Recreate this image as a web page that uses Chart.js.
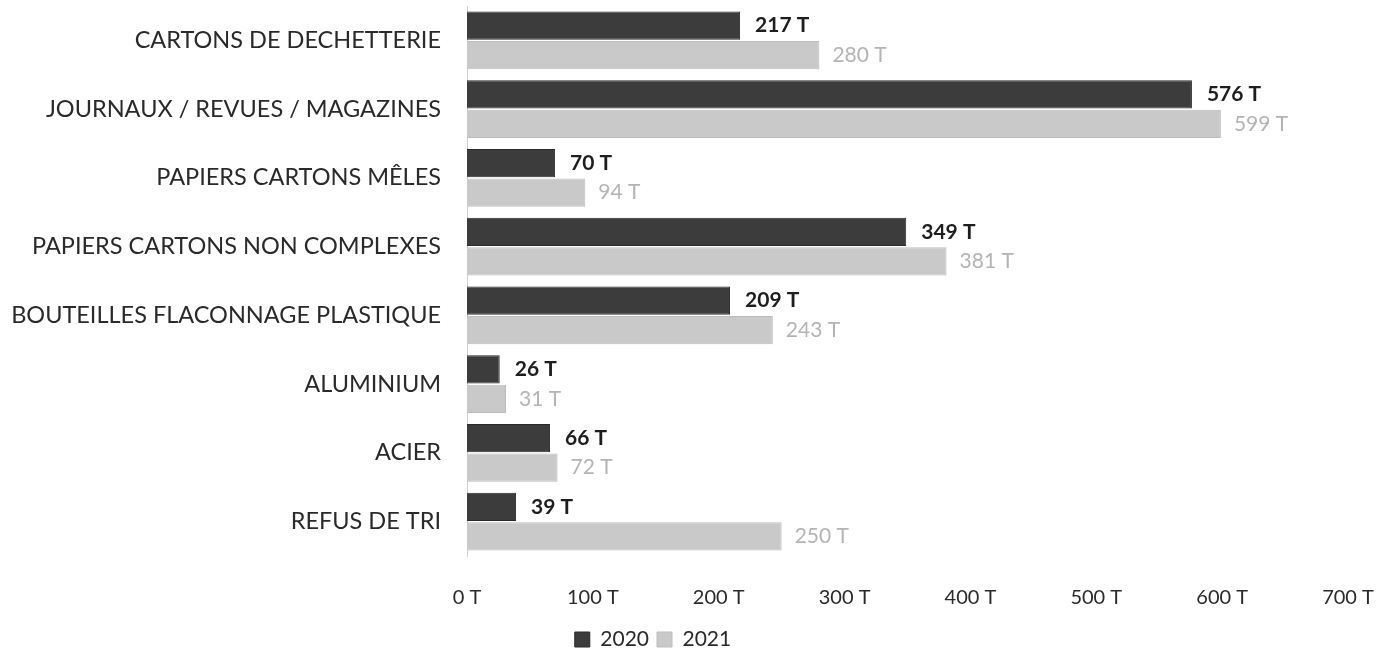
<!DOCTYPE html>
<html>
<head>
<meta charset="utf-8">
<script src="https://cdn.jsdelivr.net/npm/chart.js@4/dist/chart.umd.min.js"></script>
<style>
  html, body { margin: 0; padding: 0; background: #fff; }
  #wrap { width: 1396px; height: 661px; }
</style>
</head>
<body>
<div id="wrap"><canvas id="chart"></canvas></div>
<script>
// categories and values (tonnes)
const categories = [
  'CARTONS DE DECHETTERIE',
  'JOURNAUX / REVUES / MAGAZINES',
  'PAPIERS CARTONS MÊLES',
  'PAPIERS CARTONS NON COMPLEXES',
  'BOUTEILLES FLACONNAGE PLASTIQUE',
  'ALUMINIUM',
  'ACIER',
  'REFUS DE TRI'
];
const values2020 = [217, 576, 70, 349, 209, 26, 66, 39];
const values2021 = [280, 599, 94, 381, 243, 31, 72, 250];
const seriesLabels = ['2020', '2021'];

const FONT = 'Lato, "Open Sans", sans-serif';

// petites étiquettes au bout des barres
const barLabels = {
  id: 'barLabels',
  afterDatasetsDraw(chart) {
    const ctx = chart.ctx;
    chart.data.datasets.forEach((ds, i) => {
      const meta = chart.getDatasetMeta(i);
      meta.data.forEach((bar, j) => {
        ctx.save();
        ctx.font = (i === 0 ? 'bold ' : '') + '21px ' + FONT;
        ctx.fillStyle = i === 0 ? '#1e1e1e' : '#b4b4b4';
        ctx.textBaseline = 'middle';
        ctx.textAlign = 'left';
        ctx.fillText(ds.data[j] + ' T', bar.x + (i === 0 ? 15 : 13), bar.y);
        ctx.restore();
      });
    });
  }
};

// la légende est un peu décalée vers la gauche dans l'original
const legendShift = {
  id: 'legendShift',
  afterLayout(chart) {
    chart.legend.left -= 21;
    chart.legend.right -= 21;
  }
};

new Chart(document.getElementById('chart'), {
  type: 'bar',
  data: {
    labels: categories,
    datasets: [
      { label: seriesLabels[0], data: values2020, backgroundColor: '#3c3c3c', borderColor: '#2a2a2a', borderWidth: 1 },
      { label: seriesLabels[1], data: values2021, backgroundColor: '#c9c9c9', borderColor: '#bdbdbd', borderWidth: 1 }
    ]
  },
  options: {
    indexAxis: 'y',
    responsive: true,
    maintainAspectRatio: false,
    animation: false,
    layout: { padding: { top: 6, right: 48, bottom: 1, left: 0 } },
    datasets: { bar: { categoryPercentage: 0.86, barPercentage: 0.96 } },
    scales: {
      y: {
        grid: { display: false, drawTicks: false },
        border: { display: true, color: '#d0d0d0', width: 1 },
        ticks: { color: '#2a2a2a', font: { family: FONT, size: 23.5 }, padding: 26 },
        afterFit(scale) {
          scale.width = 467;
          scale.paddingTop = 0;
          scale.paddingBottom = 0;
        }
      },
      x: {
        min: 0,
        max: 700,
        grid: { display: false, drawTicks: false },
        border: { display: false },
        ticks: {
          stepSize: 100,
          color: '#2a2a2a',
          font: { family: FONT, size: 20 },
          padding: 30,
          callback: (v) => v + ' T'
        },
        afterFit(scale) {
          scale.height = 65;
          scale.paddingLeft = 0;
          scale.paddingRight = 0;
        }
      }
    },
    plugins: {
      legend: {
        position: 'bottom',
        labels: {
          color: '#2a2a2a',
          font: { family: FONT, size: 21 },
          boxWidth: 15,
          boxHeight: 15,
          padding: 8
        }
      },
      tooltip: { enabled: false }
    }
  },
  plugins: [barLabels, legendShift]
});
</script>
</body>
</html>
